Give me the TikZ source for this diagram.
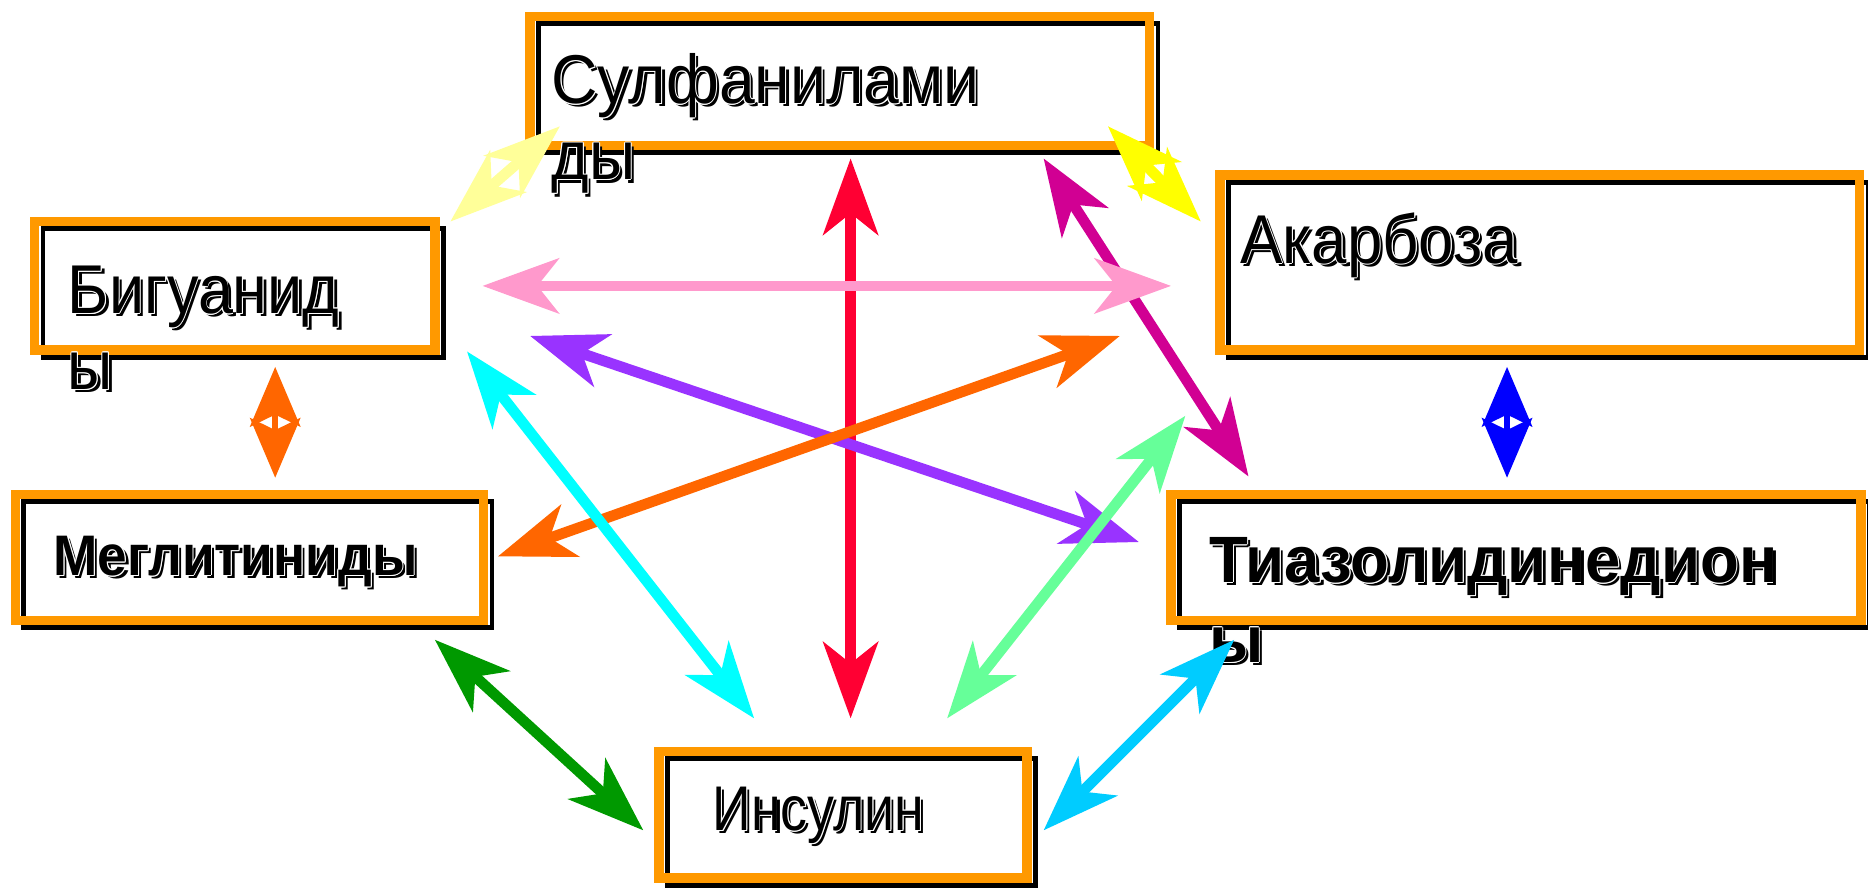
\documentclass[tikz,border=0pt]{standalone}
\usepackage{graphicx}
\usepackage{fontspec}
\setmainfont{Liberation Sans}
\usetikzlibrary{arrows.meta}
\definecolor{boxorange}{HTML}{FF9900}
\definecolor{lyel}{HTML}{FFFF99}
\definecolor{yel}{HTML}{FFFF00}
\definecolor{ared}{HTML}{FF0033}
\definecolor{amag}{HTML}{D10093}
\definecolor{apink}{HTML}{FF99CC}
\definecolor{apurple}{HTML}{9933FF}
\definecolor{aorange}{HTML}{FF6600}
\definecolor{acyan}{HTML}{00FFFF}
\definecolor{alg}{HTML}{66FF99}
\definecolor{agreen}{HTML}{009900}
\definecolor{asky}{HTML}{00CCFF}
\definecolor{ablue}{HTML}{0000FF}
\tikzset{
  frame/.style={line width=4pt, draw=boxorange},
  shadowframe/.style={line width=2pt, draw=black},
  lbl/.style={anchor=base west, inner sep=0pt, outer sep=0pt},
  arr/.style={line width=4.5pt, {Stealth[length=32pt,width=23pt,inset=9pt]}-{Stealth[length=32pt,width=23pt,inset=9pt]}},
  sarr/.style={line width=2.5pt, {Stealth[length=25pt,width=21pt,inset=5pt]}-{Stealth[length=25pt,width=21pt,inset=5pt]}},
}
\newcommand\pbox[4]{%
  \draw[shadowframe,shift={(7,6)}] (#1,#2) rectangle (#3,#4);
  \draw[frame] (#1,#2) rectangle (#3,#4);}
% name, x, y, font, xscale, text
\newcommand\ptext[6]{%
  \node[lbl,text=black] (#1s) at (#2+2.8,#3+2.8) {#4\scalebox{#5}[1]{#6}};
  \foreach \dx/\dy [count=\k] in {0.8/0,-0.8/0,0/0.8,0/-0.8,0.6/0.6,-0.6/0.6,0.6/-0.6,-0.6/-0.6}{
    \node[lbl,text=white] (#1w\k) at (#2+\dx,#3+\dy) {#4\scalebox{#5}[1]{#6}};}
  \node[lbl,text=black] (#1) at (#2,#3) {#4\scalebox{#5}[1]{#6}};}
\newcommand\fnorm{\fontsize{29pt}{33pt}\selectfont}
\newcommand\fmeg{\fontsize{24pt}{28pt}\selectfont\bfseries}
\newcommand\ftia{\fontsize{27.5pt}{32pt}\selectfont\bfseries}
\newcommand\fins{\fontsize{26.5pt}{30pt}\selectfont}
\begin{document}
\begin{tikzpicture}[x=0.5pt,y=-0.5pt]
\useasboundingbox (0,0) rectangle (1568,748);
% boxes
\pbox{445}{14}{965}{122}
\pbox{29}{186}{365}{294}
\pbox{1024}{147}{1561}{294}
\pbox{13}{415}{406}{521}
\pbox{983}{415}{1562}{521}
\pbox{553}{631}{862}{737}
% texts
\ptext{sulfa1}{463}{87}{\fnorm}{0.93}{Сулфанилами}
\ptext{sulfa2}{463}{151}{\fnorm}{0.93}{ды}
\ptext{bigu1}{57}{263}{\fnorm}{0.91}{Бигуанид}
\ptext{bigu2}{57}{327}{\fnorm}{0.91}{ы}
\ptext{akar}{1041}{221}{\fnorm}{0.92}{Акарбоза}
\ptext{megl}{45}{483}{\fmeg}{0.93}{Меглитиниды}
\ptext{tiaz1}{1015}{489}{\ftia}{0.97}{Тиазолидинедион}
\ptext{tiaz2}{1015}{556}{\ftia}{0.97}{ы}
\ptext{insu}{598}{697}{\fins}{0.85}{Инсулин}
% arrow end points
\coordinate (ly1) at (378,186); \coordinate (ly2) at (470,106);
\coordinate (y1) at (930,106); \coordinate (y2) at (1008,186);
\coordinate (r1) at (714,133); \coordinate (r2) at (714,603);
\coordinate (m1) at (876,133); \coordinate (m2) at (1048,400);
\coordinate (p1) at (405,240); \coordinate (p2) at (983,240);
\coordinate (pu1) at (445,282); \coordinate (pu2) at (956,455);
\coordinate (o1) at (940,282); \coordinate (o2) at (418,467);
\coordinate (c1) at (392,295); \coordinate (c2) at (633,603);
\coordinate (lg1) at (995,349); \coordinate (lg2) at (795,603);
\coordinate (g1) at (365,537); \coordinate (g2) at (540,697);
\coordinate (s1) at (1036,537); \coordinate (s2) at (876,697);
\coordinate (so1) at (231,308); \coordinate (so2) at (231,401);
\coordinate (sb1) at (1265,308); \coordinate (sb2) at (1265,401);
% arrows
\draw[arr,lyel] (ly1) -- (ly2);
\draw[arr,yel] (y1) -- (y2);
\draw[arr,ared] (r1) -- (r2);
\draw[arr,amag] (m1) -- (m2);
\draw[arr,apink] (p1) -- (p2);
\draw[arr,apurple] (pu1) -- (pu2);
\draw[arr,aorange] (o1) -- (o2);
\draw[arr,acyan] (c1) -- (c2);
\draw[arr,alg] (lg1) -- (lg2);
\draw[arr,agreen] (g1) -- (g2);
\draw[arr,asky] (s1) -- (s2);
\draw[sarr,aorange] (so1) -- (so2);
\draw[sarr,ablue] (sb1) -- (sb2);
\end{tikzpicture}
\end{document}
